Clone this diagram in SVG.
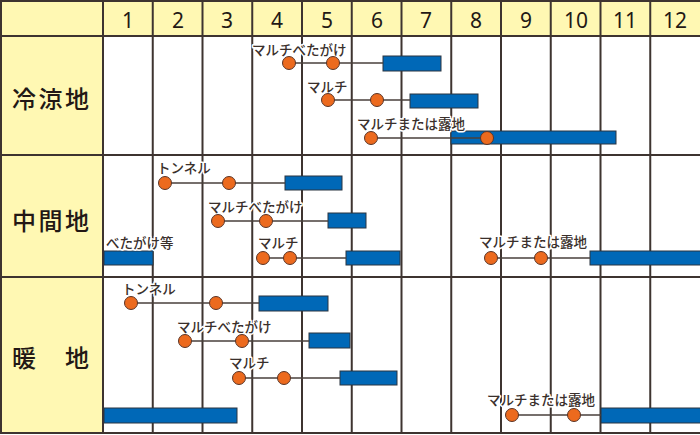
<svg xmlns="http://www.w3.org/2000/svg" width="700" height="435" viewBox="0 0 700 435">
<style>
.grid{stroke:#3e3430;stroke-width:2;fill:none}
.yl{fill:#fff8b3}
.num{font-family:"Noto Sans","Liberation Sans",sans-serif;font-size:21px;fill:#231815;text-anchor:middle}
.reg{font-family:"Noto Sans CJK JP",sans-serif;font-size:24px;fill:#231815;letter-spacing:2.5px;font-weight:500}
.lb{font-family:"Noto Sans CJK JP",sans-serif;font-size:13.5px;font-weight:500;fill:#3a302c;stroke:#fff;stroke-width:3;paint-order:stroke;stroke-linejoin:round}
.bar{fill:#0068b7;stroke:#2b3440;stroke-width:1}
.dot{fill:#ec6a1e;stroke:#5a3426;stroke-width:1}
.con{stroke:#4a403c;stroke-width:1.4;fill:none}
</style>
<rect x="0" y="0" width="700" height="435" fill="#fff"/>
<g id="grid">
<rect class="yl" x="0" y="0" width="700" height="36"/>
<rect class="yl" x="0" y="36" width="103" height="397"/>
<path class="grid" d="M0 1H700M0 36H700M0 155H700M0 277H700M0 433H700M1 0V434M103 0V434M152.75 0V434M202.5 0V434M252.25 0V434M302 0V434M351.75 0V434M401.5 0V434M451.25 0V434M501 0V434M550.75 0V434M600.5 0V434M650.25 0V434"/>
<text class="num" x="128" y="27.5">1</text>
<text class="num" x="178" y="27.5">2</text>
<text class="num" x="227" y="27.5">3</text>
<text class="num" x="277" y="27.5">4</text>
<text class="num" x="327" y="27.5">5</text>
<text class="num" x="377" y="27.5">6</text>
<text class="num" x="426" y="27.5">7</text>
<text class="num" x="476" y="27.5">8</text>
<text class="num" x="526" y="27.5">9</text>
<text class="num" x="576" y="27.5">10</text>
<text class="num" x="625" y="27.5">11</text>
<text class="num" x="675" y="27.5">12</text>
<text class="reg" x="12" y="108">冷涼地</text>
<text class="reg" x="12" y="230">中間地</text>
<text class="reg" x="12" y="367">暖　地</text>
</g>
<g id="bars">
<rect id="b11" class="bar" x="383" y="56" width="58" height="15"/>
<rect id="b12" class="bar" x="410" y="94" width="68" height="14"/>
<rect id="b13" class="bar" x="451" y="131" width="165" height="13"/>
<rect id="b21" class="bar" x="285" y="176" width="57" height="14"/>
<rect id="b22" class="bar" x="328" y="213" width="38" height="15"/>
<rect id="b23" class="bar" x="104" y="251" width="49" height="14"/>
<rect id="b24" class="bar" x="346" y="251" width="54" height="14"/>
<rect id="b25" class="bar" x="590" y="251" width="111" height="14"/>
<rect id="b31" class="bar" x="259" y="296" width="69" height="15"/>
<rect id="b32" class="bar" x="309" y="333" width="41" height="15"/>
<rect id="b33" class="bar" x="340" y="371" width="57" height="14"/>
<rect id="b34" class="bar" x="104" y="408" width="133" height="15"/>
<rect id="b35" class="bar" x="601" y="408" width="100" height="15"/>
</g>
<g id="connectors">
<path class="con" d="M289 63H383M328 100H410M371 138H487M165 183H285M218 221H328M263 258H346M491 258H590M131 303H259M185 341H309M239 378H340M512 415H601"/>
</g>
<g id="n11"><text class="lb" x="252" y="55">マルチべたがけ</text><circle class="dot" cx="289" cy="63" r="6.5"/><circle class="dot" cx="333" cy="63" r="6.5"/></g>
<g id="n12"><text class="lb" x="307" y="92">マルチ</text><circle class="dot" cx="328" cy="100" r="6.5"/><circle class="dot" cx="377" cy="100" r="6.5"/></g>
<g id="n13"><text class="lb" x="357" y="129">マルチまたは露地</text><circle class="dot" cx="371" cy="138" r="6.5"/><circle class="dot" cx="487" cy="138" r="6.5"/></g>
<g id="n21"><text class="lb" x="157" y="173">トンネル</text><circle class="dot" cx="165" cy="183" r="6.5"/><circle class="dot" cx="229" cy="183" r="6.5"/></g>
<g id="n22"><text class="lb" x="208" y="212">マルチべたがけ</text><circle class="dot" cx="218" cy="221" r="6.5"/><circle class="dot" cx="266" cy="221" r="6.5"/></g>
<g id="n23"><text class="lb" x="106" y="248">べたがけ等</text></g>
<g id="n24"><text class="lb" x="258" y="248">マルチ</text><circle class="dot" cx="263" cy="258" r="6.5"/><circle class="dot" cx="290" cy="258" r="6.5"/></g>
<g id="n25"><text class="lb" x="479" y="247">マルチまたは露地</text><circle class="dot" cx="491" cy="258" r="6.5"/><circle class="dot" cx="541" cy="258" r="6.5"/></g>
<g id="n31"><text class="lb" x="122" y="294">トンネル</text><circle class="dot" cx="131" cy="303" r="6.5"/><circle class="dot" cx="216" cy="303" r="6.5"/></g>
<g id="n32"><text class="lb" x="177" y="332">マルチべたがけ</text><circle class="dot" cx="185" cy="341" r="6.5"/><circle class="dot" cx="242" cy="341" r="6.5"/></g>
<g id="n33"><text class="lb" x="229" y="368">マルチ</text><circle class="dot" cx="239" cy="378" r="6.5"/><circle class="dot" cx="284" cy="378" r="6.5"/></g>
<g id="n34"><text class="lb" x="487" y="405">マルチまたは露地</text><circle class="dot" cx="512" cy="415" r="6.5"/><circle class="dot" cx="574" cy="415" r="6.5"/></g>
</svg>
